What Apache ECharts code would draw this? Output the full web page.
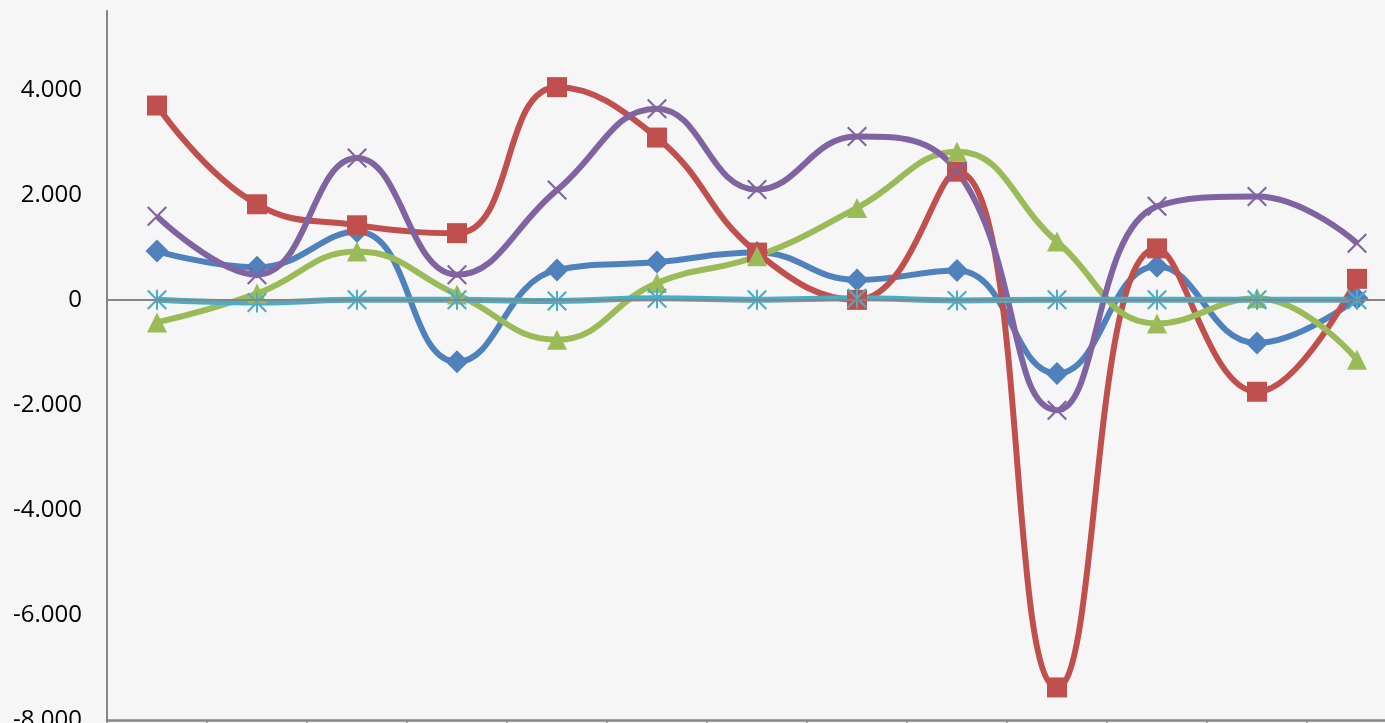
<!DOCTYPE html>
<html>
<head>
<meta charset="utf-8">
<script src="https://cdn.jsdelivr.net/npm/echarts@6/dist/echarts.min.js"></script>
<style>
html,body{margin:0;padding:0;background:#f6f6f6;overflow:hidden;width:1385px;height:723px;}
#chart{width:1407px;height:723px;}
</style>
</head>
<body>
<div id="chart"></div>
<script>
const categories = ['1','2','3','4','5','6','7','8','9','10','11','12','13'];
const seriesBlue   = [930, 620, 1300, -1180, 570, 720, 900, 380, 560, -1400, 640, -820, 30];
const seriesRed    = [3700, 1820, 1420, 1270, 4050, 3090, 900, 0, 2440, -7380, 980, -1750, 400];
const seriesGreen  = [-430, 120, 920, 100, -760, 320, 830, 1750, 2820, 1110, -450, 30, -1140];
const seriesPurple = [1590, 480, 2700, 480, 2090, 3640, 2100, 3110, 2450, -2100, 1780, 1970, 1080];
const seriesCyan   = [0, -50, 0, 0, -20, 30, 0, 30, -10, 0, 0, 0, 0];
const yTicks = [-8000, -6000, -4000, -2000, 0, 2000, 4000];

const xPath = 'path://M0,1.5 L1.5,0 L20,18.5 L18.5,20 Z M18.5,0 L20,1.5 L1.5,20 L0,18.5 Z';
const starPath = 'path://M0,1.5 L1.5,0 L20,18.5 L18.5,20 Z M18.5,0 L20,1.5 L1.5,20 L0,18.5 Z M9,0 L11,0 L11,20 L9,20 Z';

function fmt(v){
  if (yTicks.indexOf(v) < 0) return '';
  const s = Math.abs(v).toString().replace(/\B(?=(\d{3})+(?!\d))/g, '.');
  return (v < 0 ? '-' : '') + s;
}

function mk(name, data, color, symbol, size, extra){
  return Object.assign({
    name: name,
    type: 'line',
    data: data,
    smooth: 0.45,
    symbol: symbol,
    symbolSize: size,
    showAllSymbol: true,
    lineStyle: {color: color, width: 6},
    itemStyle: {color: color},
    emphasis: {disabled: true},
    animation: false
  }, extra || {});
}

const chart = echarts.init(document.getElementById('chart'), null, {renderer: 'canvas'});
chart.setOption({
  backgroundColor: '#f6f6f6',
  animation: false,
  grid: {left: 107, right: 0, top: 11, bottom: 3, containLabel: false, outerBoundsMode: 'none'},
  xAxis: {
    type: 'category',
    data: categories,
    boundaryGap: true,
    axisLine: {onZero: false, lineStyle: {color: '#868686', width: 2.5}},
    axisTick: {show: true, length: 5, lineStyle: {color: '#868686', width: 1.5}},
    axisLabel: {show: false},
    splitLine: {show: false}
  },
  yAxis: {
    type: 'value',
    min: -8000,
    max: 5500,
    interval: 2000,
    axisLine: {show: true, lineStyle: {color: '#868686', width: 2}},
    axisTick: {show: false},
    splitLine: {show: false},
    axisLabel: {
      formatter: fmt,
      color: '#000',
      fontFamily: 'Open Sans',
      fontSize: 24,
      margin: 25
    }
  },
  series: [
    mk('Serie 1', seriesBlue, '#4F81BD', 'diamond', 23, {
      markLine: {
        silent: true,
        symbol: ['none','none'],
        label: {show: false},
        lineStyle: {color: '#868686', width: 2, type: 'solid'},
        data: [{yAxis: 0}],
        animation: false
      }
    }),
    mk('Serie 2', seriesRed, '#C0504D', 'rect', 20),
    mk('Serie 3', seriesGreen, '#9BBB59', 'triangle', 20),
    mk('Serie 4', seriesPurple, '#8064A2', xPath, 20),
    mk('Serie 5', seriesCyan, '#4BACC6', starPath, 20)
  ]
});
</script>
</body>
</html>
